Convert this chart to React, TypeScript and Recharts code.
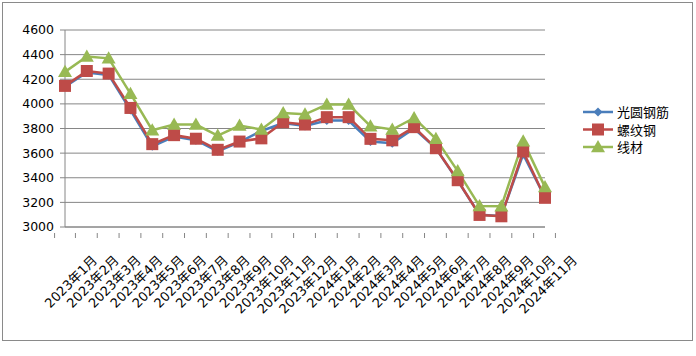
import React from 'react';
import { CartesianGrid, Legend, Line, LineChart, XAxis, YAxis } from 'recharts';

const months = [
  '2023年1月', '2023年2月', '2023年3月', '2023年4月', '2023年5月', '2023年6月',
  '2023年7月', '2023年8月', '2023年9月', '2023年10月', '2023年11月', '2023年12月',
  '2024年1月', '2024年2月', '2024年3月', '2024年4月', '2024年5月', '2024年6月',
  '2024年7月', '2024年8月', '2024年9月', '2024年10月', '2024年11月',
];

const roundBar = [
  4140, 4255, 4235, 3950, 3655, 3735, 3705, 3615, 3690, 3780, 3845, 3820,
  3865, 3865, 3695, 3680, 3800, 3640, 3375, 3100, 3090, 3590, 3240,
];

const rebar = [
  4146, 4267, 4246, 3967, 3673, 3746, 3717, 3627, 3694, 3720, 3851, 3832,
  3892, 3892, 3716, 3704, 3811, 3640, 3380, 3098, 3087, 3613, 3237,
];

const wireRod = [
  4260, 4385, 4370, 4083, 3786, 3832, 3832, 3743, 3824, 3792, 3926, 3915,
  3994, 3994, 3819, 3792, 3886, 3716, 3454, 3170, 3168, 3697, 3324,
];

const yTicks = [3000, 3200, 3400, 3600, 3800, 4000, 4200, 4400, 4600];

const data = months.map((m, i) => ({
  month: m,
  round: roundBar[i],
  rebar: rebar[i],
  wire: wireRod[i],
}));

const BLUE = '#4A7EBB';
const RED = '#BE4B48';
const GREEN = '#98B954';
const GRID = '#868686';
const FONT = '"DejaVu Sans", "Noto Sans CJK SC", sans-serif';

const BAND = 480 / months.length;

const MonthTick = (props: any) => {
  const { x, y, payload, index } = props;
  const ax = x + 33;
  const ay = y + 26;
  return (
    <g>
      <line x1={x + BAND / 2} y1={y - 2} x2={x + BAND / 2} y2={y + 3} stroke={GRID} />
      {index === 0 && <line x1={x - BAND / 2} y1={y - 2} x2={x - BAND / 2} y2={y + 3} stroke={GRID} />}
      <text
        x={ax}
        y={ay}
        textAnchor="end"
        transform={`rotate(-45 ${ax} ${ay})`}
        fontSize={13}
        fontFamily={FONT}
        fill="#000"
      >
        {payload.value}
      </text>
    </g>
  );
};

const Diamond = (props: any) => {
  const { cx, cy } = props;
  const r = 4.5;
  return <path d={`M${cx},${cy - r}L${cx + r},${cy}L${cx},${cy + r}L${cx - r},${cy}Z`} fill={BLUE} />;
};

const Square = (props: any) => {
  const { cx, cy } = props;
  const s = 12;
  return <rect x={cx - s / 2} y={cy - s / 2} width={s} height={s} fill={RED} />;
};

const Triangle = (props: any) => {
  const { cx, cy } = props;
  const r = 7;
  return <path d={`M${cx},${cy - r}L${cx + r},${cy + r * 0.75}L${cx - r},${cy + r * 0.75}Z`} fill={GREEN} />;
};

const legendItems = [
  { name: '光圆钢筋', color: BLUE, Marker: Diamond },
  { name: '螺纹钢', color: RED, Marker: Square },
  { name: '线材', color: GREEN, Marker: Triangle },
];

const LegendBox = () => (
  <svg width={110} height={60}>
    {legendItems.map((it, i) => {
      const cy = 9 + i * 17.5;
      const M = it.Marker;
      return (
        <g key={it.name}>
          <line x1={0} y1={cy} x2={30} y2={cy} stroke={it.color} strokeWidth={2.5} />
          <M cx={15} cy={cy} />
          <text x={34} y={cy + 5} fontSize={13} fontFamily={FONT} fill="#000">
            {it.name}
          </text>
        </g>
      );
    })}
  </svg>
);

export default function App() {
  return (
    <div style={{ position: 'absolute', left: 0, top: 0, width: 696, height: 356, background: '#fff' }}>
      <div
        style={{
          position: 'absolute',
          left: 2,
          top: 2,
          width: 689,
          height: 337,
          border: '1px solid #8a8a8a',
        }}
      />
      <LineChart
        width={696}
        height={356}
        data={data}
        margin={{ top: 30, right: 151, left: 0, bottom: 39 }}
        style={{ position: 'absolute', left: 0, top: 0 }}
      >
        <CartesianGrid vertical={false} stroke={GRID} strokeWidth={1} />
        <XAxis
          dataKey="month"
          interval={0}
          height={90}
          tick={<MonthTick />}
          tickLine={false}
          axisLine={{ stroke: GRID }}
        />
        <YAxis
          width={65}
          domain={[3000, 4600]}
          ticks={yTicks}
          interval={0}
          tickSize={5}
          tickMargin={6}
          axisLine={{ stroke: GRID }}
          tickLine={{ stroke: GRID }}
          tick={{ fill: '#000', fontSize: 12.5, fontFamily: FONT }}
        />
        <Line
          dataKey="round"
          name="光圆钢筋"
          stroke={BLUE}
          strokeWidth={2.5}
          dot={<Diamond />}
          isAnimationActive={false}
        />
        <Line
          dataKey="rebar"
          name="螺纹钢"
          stroke={RED}
          strokeWidth={2.5}
          dot={<Square />}
          isAnimationActive={false}
        />
        <Line
          dataKey="wire"
          name="线材"
          stroke={GREEN}
          strokeWidth={2.5}
          dot={<Triangle />}
          isAnimationActive={false}
        />
        <Legend
          layout="horizontal"
          verticalAlign="middle"
          align="center"
          content={<LegendBox />}
          wrapperStyle={{ position: 'absolute', left: 583, top: 103, width: 110 }}
        />
      </LineChart>
    </div>
  );
}
